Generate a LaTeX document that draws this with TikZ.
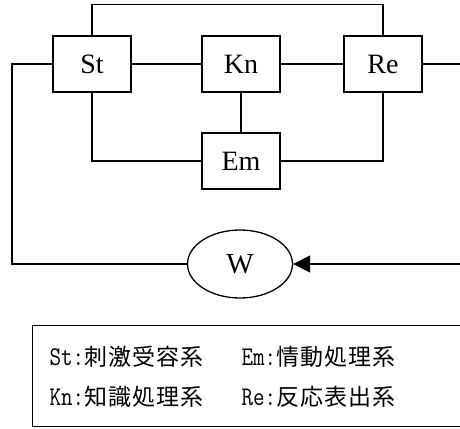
\documentclass[tikz,border=0pt]{standalone}
\usepackage{fontspec}
\setmainfont{Liberation Serif}
\setmonofont[FakeStretch=0.83]{Latin Modern Mono}
\newfontfamily\jpfont[LetterSpace=5]{Noto Sans CJK JP}
\newcommand{\hwfont}{\ttfamily\fontsize{27}{27}\selectfont}
\usetikzlibrary{shapes.geometric,arrows.meta}
\begin{document}
\begin{tikzpicture}[x=1pt,y=-1pt,line width=1.3pt,
  blk/.style={draw,minimum width=78pt,minimum height=56pt,inner sep=0pt,
    font=\fontsize{28}{28}\selectfont},
  world/.style={draw,ellipse,minimum width=105pt,minimum height=68pt,inner sep=0pt,
    font=\fontsize{29}{29}\selectfont},
  leg/.style={anchor=west,inner sep=0pt,font=\fontsize{23}{23}\selectfont},
  wire/.style={line width=1.3pt}]
\useasboundingbox (0,0) rectangle (460,428);
\node[blk] (St) at (92,64) {St};
\node[blk] (Kn) at (241,64) {Kn};
\node[blk] (Re) at (383,64) {Re};
\node[blk] (Em) at (241,161) {Em};
\node[world] (W) at (240,264) {W};
\coordinate (T) at (0,4.5);
\coordinate (L) at (12,0);
\coordinate (R) at (462,0);
\draw[wire] (St.north) -- (St.north |- T) -| (Re.north);
\draw[wire] (St.east) -- (Kn.west);
\draw[wire] (Kn.east) -- (Re.west);
\draw[wire] (Kn.south) -- (Em.north);
\draw[wire] (St.south) |- (Em.west);
\draw[wire] (Em.east) -| (Re.south);
\draw[wire] (St.west) -| (L |- W.west) -- (W.west);
\draw[wire] (Re.east) -- (Re.east -| R);
\draw[wire,-{Triangle[length=17pt,width=17pt]}] (R |- W.east) -- (W.east);
\node[draw,anchor=north west,minimum width=440pt,minimum height=101pt,inner sep=0pt] (legend) at (32,325) {};
\node[leg] (l1) at (49,357) {{\hwfont St:}{\jpfont 刺激受容系}};
\node[leg] (l2) at (241,357) {{\hwfont Em:}{\jpfont 情動処理系}};
\node[leg] (l3) at (49,397) {{\hwfont Kn:}{\jpfont 知識処理系}};
\node[leg] (l4) at (241,397) {{\hwfont Re:}{\jpfont 反応表出系}};
\end{tikzpicture}
\end{document}
